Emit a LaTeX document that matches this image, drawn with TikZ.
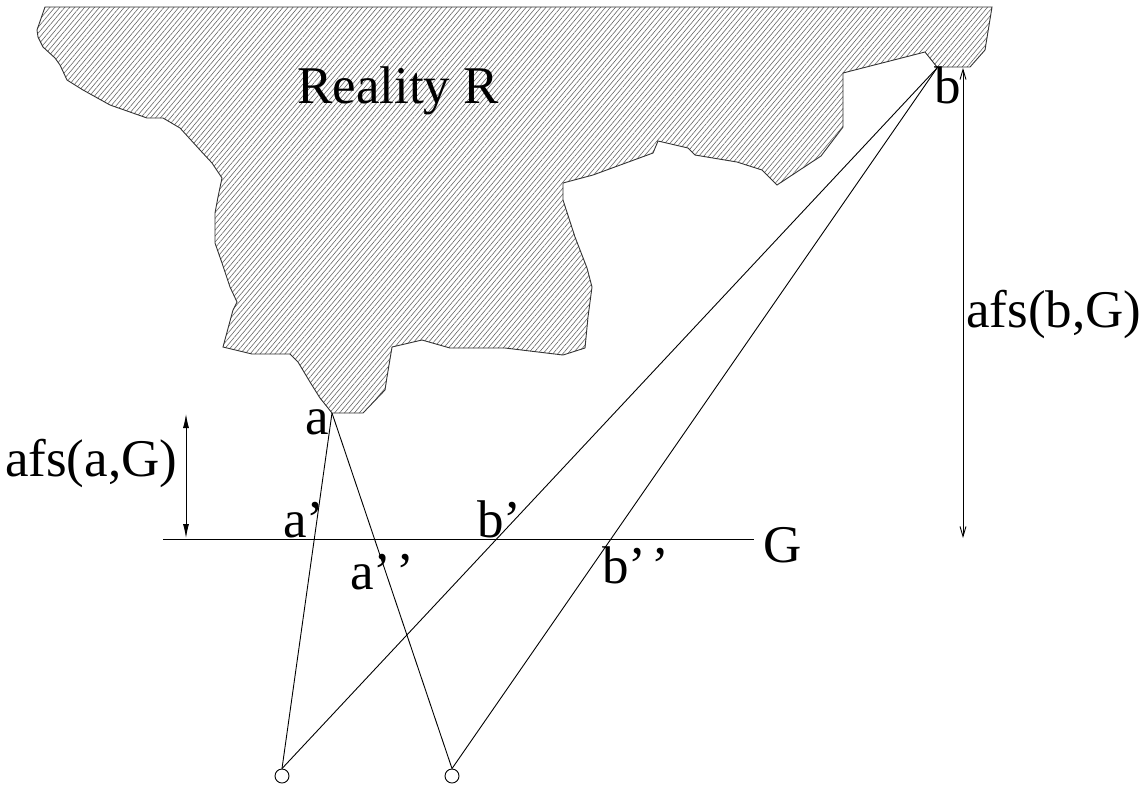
\documentclass[tikz,border=0pt]{standalone}
\usepackage{fontspec}
\setmainfont{Liberation Serif}
\newfontfamily\timesfont{Liberation Serif}
\usetikzlibrary{patterns.meta,arrows.meta}
\tikzset{
  lbl/.style={anchor=base west,inner sep=0pt,font=\timesfont\fontsize{53}{60}\selectfont},
  ray/.style={line width=0.9pt},
  eye/.style={circle,draw,line width=0.9pt,minimum size=14pt,inner sep=0pt},
  region/.style={draw=black!80,line width=0.9pt,pattern={Lines[angle=50,distance=3.8pt,line width=0.6pt]},pattern color=black!60},
  dim/.style={line width=0.9pt}
}
\begin{document}
\begin{tikzpicture}[x=1pt,y=-1pt]
\useasboundingbox (0,0) rectangle (1147,788);
% Reality region
\draw[region] (45,7) -- (992,7) -- (985,50) -- (970,67) -- (937,67) -- (925,52) -- (843,73) -- (843,127)
 -- (821,156) -- (777,185) -- (762,170) -- (737,162) -- (695,155) -- (688,148) -- (658,141) -- (653,153)
 -- (593,175) -- (563,183) -- (563,200) -- (575,237) -- (587,268) -- (592,287) -- (588,317) -- (585,348)
 -- (563,355) -- (505,348) -- (450,348) -- (422,340) -- (392,347) -- (387,377) -- (385,390) -- (363,413)
 -- (332,413) -- (320,398) -- (310,382) -- (298,362) -- (290,354) -- (252,354) -- (223,347) -- (233,310)
 -- (237,302) -- (230,287) -- (222,263) -- (215,243) -- (215,213) -- (218,197) -- (222,178) -- (212,163)
 -- (200,150) -- (180,128) -- (163,118) -- (147,118) -- (110,105) -- (83,90) -- (67,80) -- (60,65)
 -- (55,58) -- (43,47) -- (38,37) -- (37,30) -- cycle;
\node[lbl] (rr) at (297,103) {Reality R};

% points
\coordinate (pa) at (332,413);
\coordinate (pb) at (937,68);
\node[eye] (o1) at (282,776) {};
\node[eye] (o2) at (452,776) {};

% line G
\coordinate (g1) at (163,539);
\coordinate (g2) at (754,539);
\draw[ray] (g1) -- (g2);
\node[lbl] (G) at (763,562) {G};

% rays
\draw[ray] (pa) -- (o1.north);
\draw[ray] (pa) -- (o2.north);
\draw[ray] (pb) -- (o1.north);
\draw[ray] (pb) -- (o2.north);

% labels
\node[lbl] (la) at (305,434) {a};
\node[lbl] (lb) at (934,103) {b};
\node[lbl] (la1) at (283,537) {a’};
\node[lbl] (la2) at (350,589) {a’\kern0.09em’};
\node[lbl] (lb1) at (477,537) {b’};
\node[lbl] (lb2) at (602,583) {b’\kern0.09em’};

% distance arrows
\coordinate (da1) at (186,414);
\coordinate (da2) at (186,538);
\draw[dim,{Latex[length=14pt,width=6pt]}-{Latex[length=14pt,width=6pt]}] (da1) -- (da2);
\node[lbl] (afsa) at (5,476) {afs(a,G)};

\coordinate (db1) at (963,68);
\coordinate (db2) at (963,538);
\draw[dim,{Straight Barb[length=10pt,width=6pt]}-{Straight Barb[length=10pt,width=6pt]}] (db1) -- (db2);
\node[lbl] (afsb) at (966,327) {afs(b,G)};
\end{tikzpicture}
\end{document}
